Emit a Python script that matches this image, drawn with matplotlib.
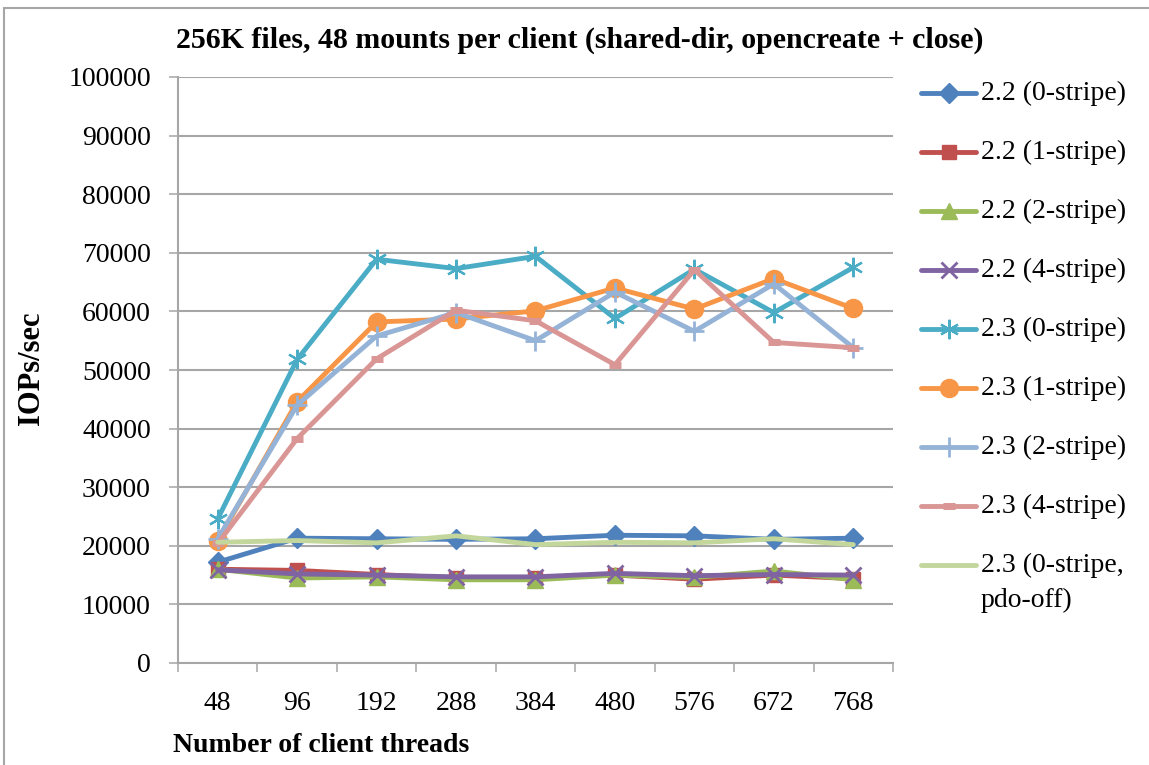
"""
256K files, 48 mounts per client (shared-dir, opencreate + close).
IOPs/sec vs number of client threads, Lustre 2.2 vs 2.3 stripe settings.
"""
import matplotlib
matplotlib.use("Agg")
import matplotlib.pyplot as plt
from matplotlib.lines import Line2D
from matplotlib.patches import Rectangle

W, H = 1149, 765

threads = ["48", "96", "192", "288", "384", "480", "576", "672", "768"]

v22_0 = [17200, 21300, 21200, 21100, 21200, 21800, 21700, 21100, 21300]
v22_1 = [16000, 15800, 15100, 14500, 14500, 15000, 14300, 15000, 14400]
v22_2 = [16000, 14500, 14700, 14200, 14200, 15000, 14600, 15700, 14200]
v22_4 = [15900, 15200, 15000, 14700, 14700, 15300, 14900, 15100, 15000]
v23_0 = [24600, 51800, 68900, 67300, 69400, 58800, 67200, 59800, 67500]
v23_1 = [20800, 44600, 58200, 58700, 60100, 64000, 60400, 65600, 60500]
v23_2 = [21200, 44000, 55800, 59800, 55000, 63300, 56600, 64700, 53800]
v23_4 = [20400, 38300, 51900, 60200, 58400, 50900, 67100, 54700, 53800]
v23_0p = [20600, 20900, 20500, 21700, 20200, 20600, 20500, 21200, 20200]

labels = ["2.2 (0-stripe)", "2.2 (1-stripe)", "2.2 (2-stripe)", "2.2 (4-stripe)",
          "2.3 (0-stripe)", "2.3 (1-stripe)", "2.3 (2-stripe)", "2.3 (4-stripe)",
          "2.3 (0-stripe,\npdo-off)"]
values = [v22_0, v22_1, v22_2, v22_4, v23_0, v23_1, v23_2, v23_4, v23_0p]

# Excel 2007 default palette
colors = ["#4F81BD", "#C0504D", "#9BBB59", "#8064A2", "#4BACC6",
          "#F79646", "#95B3D7", "#D99694", "#C3D69B"]
# (marker, size, edge width)
markers = [("D", 10, 1), ("s", 10, 1), ("^", 11, 1), ("x", 11, 2),
           ((6, 2, 0), 14, 1.6), ("o", 13, 1), ("+", 15, 2), ("_", 9, 5),
           (None, 0, 0)]

FONT = "Liberation Serif"
GRID = "#A6A6A6"

fig = plt.figure(figsize=(W / 100, H / 100), dpi=100)
ax = fig.add_axes([178 / W, 1 - 663 / H, (893 - 178) / W, (663 - 77) / H])

x = list(range(len(threads)))
for vals, col, (mk, ms, mew) in zip(values, colors, markers):
    ax.plot(x, vals, color=col, lw=3.5, marker=mk, ms=ms, mew=mew,
            mfc=col, mec=col, solid_joinstyle="round", solid_capstyle="round",
            clip_on=False, zorder=3)

ax.set_xlim(-0.5, len(threads) - 0.5)
ax.set_ylim(0, 100000)
ax.set_yticks(range(0, 100001, 10000))
ax.set_yticklabels([str(v) for v in range(0, 100001, 10000)], family=FONT, fontsize=20)
ax.set_xticks(x)
ax.set_xticklabels(threads, family=FONT, fontsize=20)
ax.set_xticks([i - 0.5 for i in range(len(threads) + 1)], minor=True)
ax.tick_params(axis="x", which="major", length=0, pad=20)
ax.tick_params(axis="x", which="minor", length=6.5, width=1.1, color=GRID, direction="out")
ax.tick_params(axis="y", length=6.5, width=1.1, color=GRID, direction="out", pad=13)

ax.grid(axis="y", color=GRID, lw=1.5)
ax.set_axisbelow(True)
for side in ["top", "right"]:
    ax.spines[side].set_visible(False)
for side in ["left", "bottom"]:
    ax.spines[side].set_color(GRID)
    ax.spines[side].set_linewidth(1.5)

# titles
fig.text(580 / W, 1 - 48 / H, "256K files, 48 mounts per client (shared-dir, opencreate + close)",
         family=FONT, weight="bold", fontsize=21.5, ha="center", va="baseline")
fig.text(173 / W, 1 - 752 / H, "Number of client threads", family=FONT, weight="bold",
         fontsize=20, ha="left", va="baseline")
fig.text(32 / W, 1 - 368 / H, "IOPs/sec", family=FONT, weight="bold", fontsize=22,
         rotation=90, ha="center", va="center")

# legend, drawn by hand so the two-line entry keeps its handle on the first line
LINE_GAP = 35  # px between the two lines of a wrapped label
for i, (lab, col, (mk, ms, mew)) in enumerate(zip(labels, colors, markers)):
    yc = 1 - (93 + 59 * i) / H
    fig.add_artist(Line2D([921 / W, 948.5 / W, 976 / W], [yc, yc, yc], color=col, lw=3.5,
                          marker=mk, ms=ms, mew=mew, mfc=col, mec=col, markevery=[1],
                          solid_capstyle="round", transform=fig.transFigure))
    for k, part in enumerate(lab.split("\n")):
        fig.text(981 / W, yc - (7 + LINE_GAP * k) / H, part, family=FONT, fontsize=20,
                 ha="left", va="baseline")

# outer chart border
fig.add_artist(Rectangle((4 / W, -0.1), 1.1, 1.1 - 8 / H, transform=fig.transFigure,
                         fill=False, ec=GRID, lw=1.5))

fig.savefig("out.png", dpi=100)
